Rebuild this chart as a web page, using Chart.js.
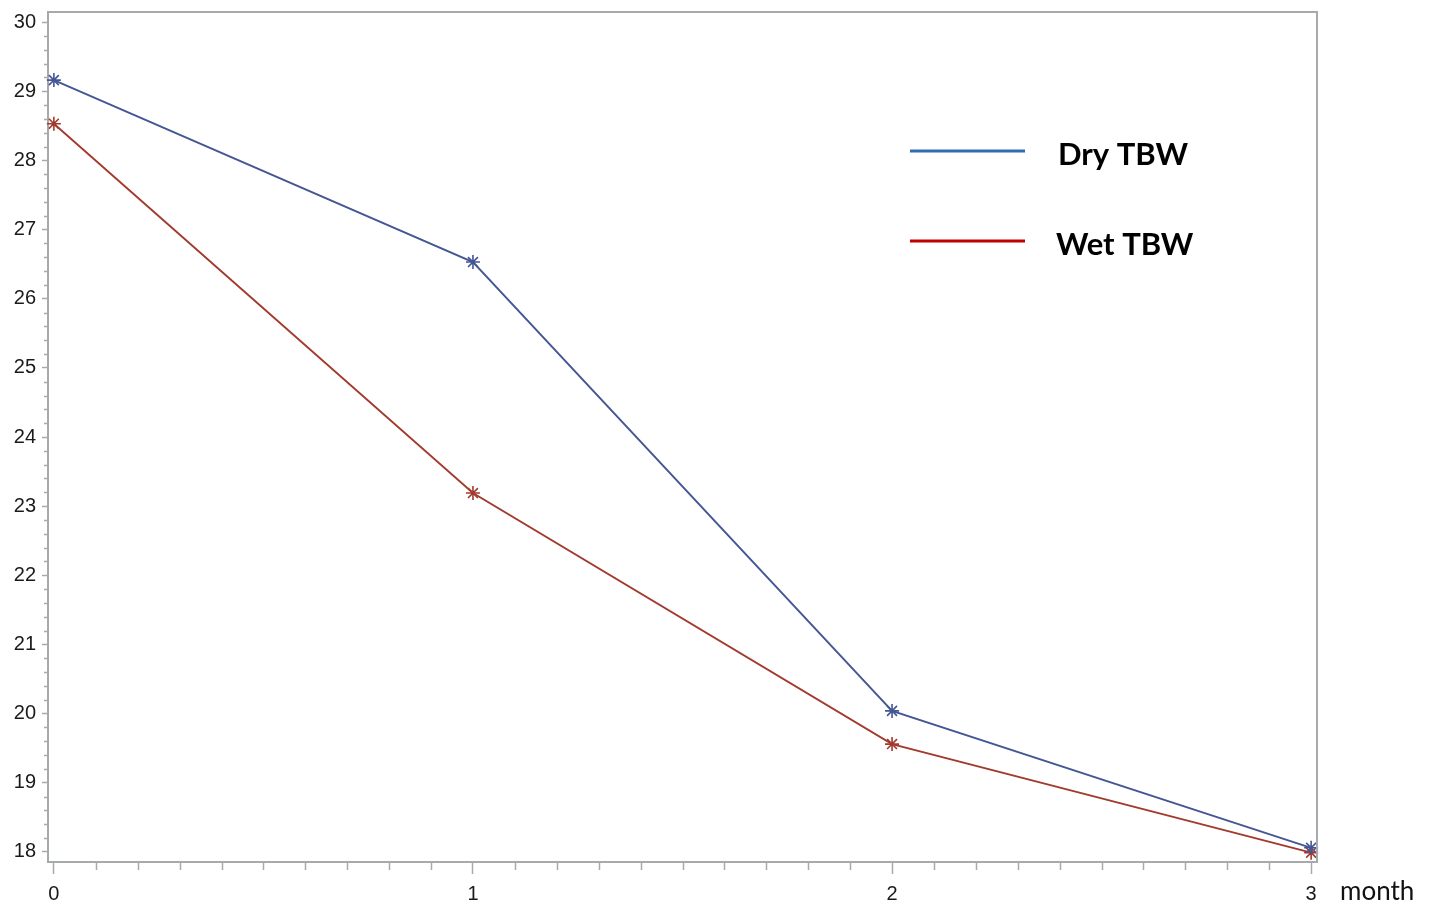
<!DOCTYPE html>
<html>
<head>
<meta charset="utf-8">
<script src="https://cdn.jsdelivr.net/npm/chart.js@4.4.1/dist/chart.umd.min.js"></script>
<style>
  html, body { margin: 0; padding: 0; background: #fff; }
  canvas { display: block; }
</style>
</head>
<body>
<canvas id="tbw-chart" width="1433" height="905"></canvas>
<script>
// data
const months = [0, 1, 2, 3];
const dryTBW = [29.16, 26.53, 20.04, 18.06];
const wetTBW = [28.53, 23.19, 19.56, 17.99];
const yTicks = [18, 19, 20, 21, 22, 23, 24, 25, 26, 27, 28, 29, 30];
const xTicks = [0, 1, 2, 3];
const seriesNames = ['Dry TBW', 'Wet TBW'];
const xTitle = 'month';

const axisGray = '#a6aaad';
const lineColors = ['#445694', '#a23a2e'];
const legendColors = ['#2e6db4', '#c00000'];

const ctx = document.getElementById('tbw-chart').getContext('2d');

// minor ticks + frame, using the chart's own scales
const framePlugin = {
    id: 'frame',
    afterDraw(chart) {
        const c = chart.ctx;
        const area = chart.chartArea;
        const xs = chart.scales.x;
        const ys = chart.scales.y;
        c.save();
        c.strokeStyle = axisGray;
        c.lineWidth = 2;
        // top and right border
        c.beginPath();
        c.moveTo(area.left, area.top);
        c.lineTo(area.right, area.top);
        c.lineTo(area.right, area.bottom);
        c.stroke();

        c.lineWidth = 1.5;
        c.beginPath();
        for (let i = 0; i <= 60; i++) {
            if (i % 5 === 0) continue;
            const py = Math.round(ys.getPixelForValue(18 + i * 0.2)) + 0.5;
            c.moveTo(area.left, py);
            c.lineTo(area.left - 4, py);
        }
        for (let i = 0; i <= 30; i++) {
            if (i % 10 === 0) continue;
            const px = Math.round(xs.getPixelForValue(i * 0.1)) + 0.5;
            c.moveTo(px, area.bottom);
            c.lineTo(px, area.bottom + 8);
        }
        c.stroke();

        // x axis title to the right of the last tick
        c.fillStyle = '#111';
        c.font = '26px Lato';
        c.textBaseline = 'alphabetic';
        c.textAlign = 'left';
        c.fillText(xTitle, 1340, 900);

        // legend inside the plot
        const rows = [151, 241];
        chart.data.datasets.forEach((ds, i) => {
            c.strokeStyle = legendColors[i];
            c.lineWidth = 3;
            c.beginPath();
            c.moveTo(910, rows[i]);
            c.lineTo(1025, rows[i]);
            c.stroke();
            c.fillStyle = '#000';
            c.font = 'bold 31px Lato';
            c.textBaseline = 'middle';
            c.fillText(ds.label, i === 0 ? 1058 : 1056, rows[i] + 4);
        });
        c.restore();
    }
};

const chart = new Chart(ctx, {
    type: 'line',
    data: {
        datasets: [
            {
                label: seriesNames[0],
                data: months.map((m, i) => ({ x: m, y: dryTBW[i] })),
                borderColor: lineColors[0],
                backgroundColor: lineColors[0],
                borderWidth: 1.9,
                pointStyle: 'star',
                pointRadius: 7,
                pointBorderWidth: 1.6,
                tension: 0,
                clip: false
            },
            {
                label: seriesNames[1],
                data: months.map((m, i) => ({ x: m, y: wetTBW[i] })),
                borderColor: lineColors[1],
                backgroundColor: lineColors[1],
                borderWidth: 1.9,
                pointStyle: 'star',
                pointRadius: 7,
                pointBorderWidth: 1.6,
                tension: 0,
                clip: false
            }
        ]
    },
    options: {
        responsive: false,
        animation: false,
        devicePixelRatio: 1,
        layout: { padding: { left: 0, top: 12, right: 116, bottom: 0 } },
        plugins: {
            legend: { display: false },
            tooltip: { enabled: false }
        },
        scales: {
            x: {
                type: 'linear',
                min: -0.014,
                max: 3.014,
                afterBuildTicks: (scale) => { scale.ticks = xTicks.map(v => ({ value: v })); },
                afterFit: (scale) => { scale.height = 43; scale.paddingLeft = 0; scale.paddingRight = 0; },
                border: { color: axisGray, width: 2 },
                grid: { drawOnChartArea: false, tickLength: 12, tickColor: axisGray, tickWidth: 1.5 },
                ticks: {
                    color: '#1a1a1a',
                    padding: 8,
                    maxRotation: 0,
                    font: { family: 'Liberation Sans', size: 20 }
                }
            },
            y: {
                type: 'linear',
                min: 17.855,
                max: 30.145,
                afterBuildTicks: (scale) => { scale.ticks = yTicks.map(v => ({ value: v })); },
                afterFit: (scale) => { scale.width = 48; scale.paddingTop = 0; scale.paddingBottom = 0; },
                border: { color: axisGray, width: 2 },
                grid: { drawOnChartArea: false, tickLength: 6, tickColor: axisGray, tickWidth: 1.5 },
                ticks: {
                    color: '#1a1a1a',
                    padding: 6,
                    font: { family: 'Liberation Sans', size: 20 }
                }
            }
        }
    },
    plugins: [framePlugin]
});
</script>
</body>
</html>
